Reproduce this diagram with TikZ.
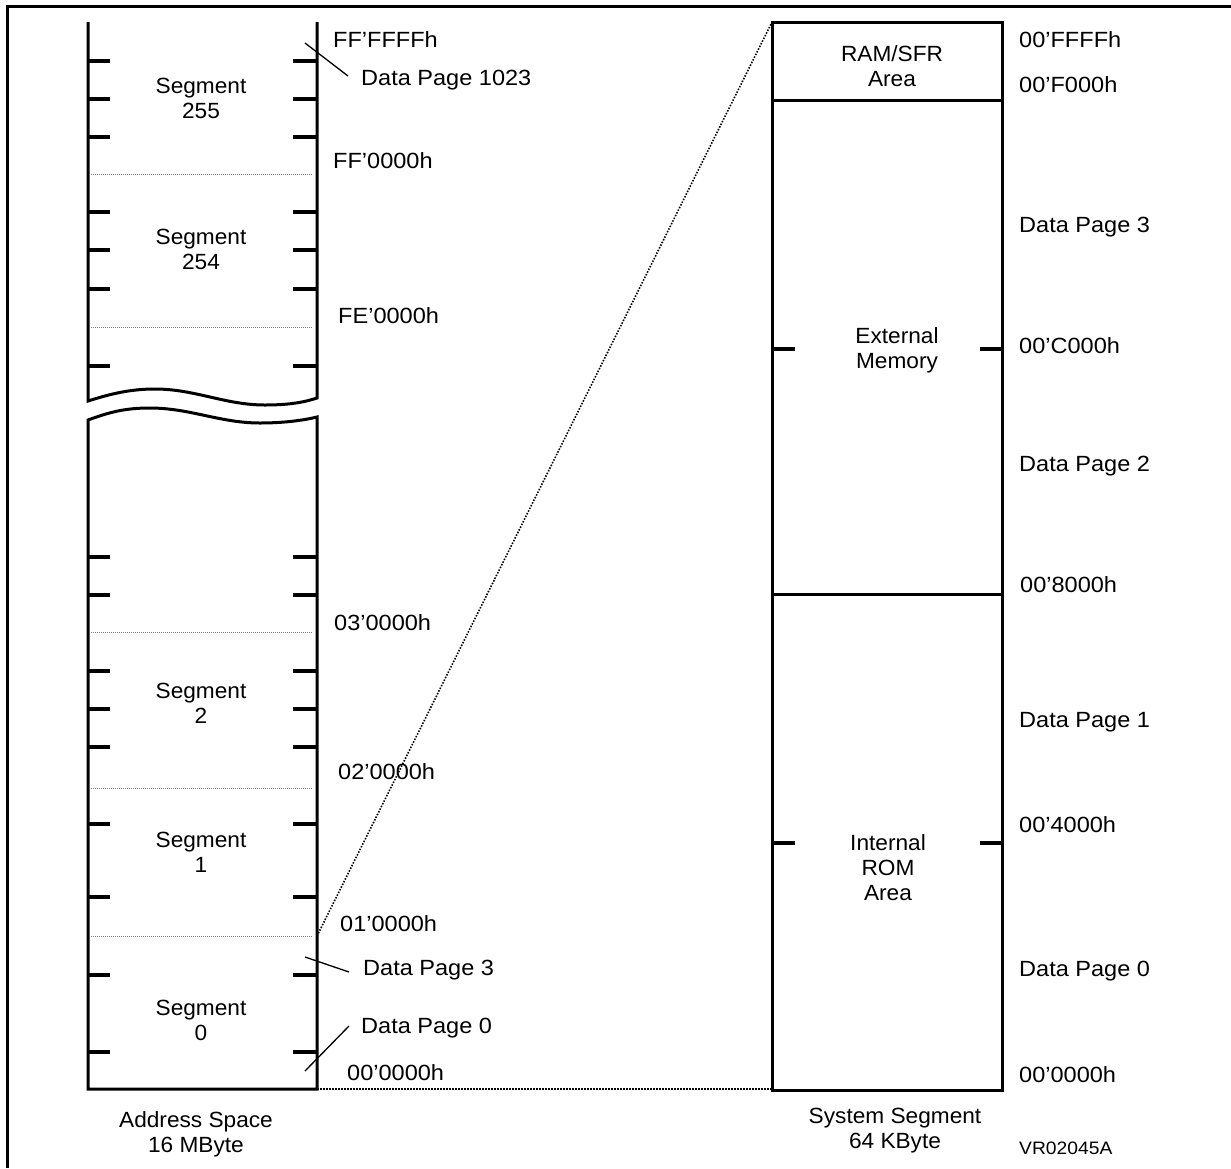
\documentclass[tikz,border=0pt]{standalone}
\usepackage{fontspec}
\setmainfont[FakeStretch=1.03]{Liberation Sans}
\newfontfamily\addrfont[FakeStretch=1.07]{Liberation Sans}
% centred multi-line label whose baseline is that of its first line
\newcommand{\lstk}[1]{\begin{tabular}[t]{@{}c@{}}#1\end{tabular}}
\begin{document}
\begin{tikzpicture}[x=1pt,y=-1pt,
  every node/.style={inner sep=0pt, font=\fontsize{22}{25}\selectfont},
  addr/.style={anchor=base west, font=\addrfont\fontsize{22}{25}\selectfont},
  mid/.style={anchor=base},
  colline/.style={line width=3pt},
  pgtick/.style={line width=4pt},
  segsep/.style={gray, line width=1pt, dash pattern=on 1pt off 1pt},
  zoomline/.style={line width=1.6pt, dash pattern=on 1.5pt off 1.5pt},
  leader/.style={line width=1.3pt},
]
\useasboundingbox (0,0) rectangle (1231,1168);

% frame
\draw[line width=3pt] (7.5,1168) -- (7.5,6.5) -- (1231,6.5);

% ---- 16 MByte address space, upper piece (open at the top, wavy break below)
\draw[colline] (88,22) -- (88,401)
  .. controls (110,394) and (130,389) .. (155,389)
  .. controls (195,389) and (225,405) .. (265,405)
  .. controls (290,405) and (305,402) .. (317,398) -- (317,22);
% lower piece
\draw[colline] (88,420)
  .. controls (110,412) and (125,408) .. (150,408)
  .. controls (190,408) and (220,423) .. (260,423)
  .. controls (285,423) and (305,420) .. (317,417)
  -- (317,1089) -- (88,1089) -- cycle;

% data page ticks
\foreach \y in {61,99,137,212,250,289,366,557,595,671,709,747,824,897,975,1052}{
  \draw[pgtick] (88,\y) -- ++(22,0);
  \draw[pgtick] (317,\y) -- ++(-24,0);
}
% segment boundaries
\foreach \y in {174,327,632,788,936}{
  \draw[segsep] (91,\y) -- (313,\y);
}

% segment names
\node[mid] (s255) at (201,93)   {\lstk{Segment\\255}};
\node[mid] (s254) at (201,244)  {\lstk{Segment\\254}};
\node[mid] (s2)   at (201,698)  {\lstk{Segment\\2}};
\node[mid] (s1)   at (201,847)  {\lstk{Segment\\1}};
\node[mid] (s0)   at (201,1015) {\lstk{Segment\\0}};
\node[mid] (asp)  at (196,1127) {\lstk{Address Space\\16 MByte}};

% addresses of the address space
\node[addr] (aFFFFFF) at (333,47)   {FF’FFFFh};
\node[addr] (dp1023)  at (361,85)   {Data Page 1023};
\node[addr] (aFF0000) at (333,168)  {FF’0000h};
\node[addr] (aFE0000) at (338,323)  {FE’0000h};
\node[addr] (a030000) at (334,630)  {03’0000h};
\node[addr] (a020000) at (338,779)  {02’0000h};
\node[addr] (a010000) at (340,931)  {01’0000h};
\node[addr] (ldp3)    at (363,975)  {Data Page 3};
\node[addr] (ldp0)    at (361,1033) {Data Page 0};
\node[addr] (a000000) at (347,1080) {00’0000h};

% leaders from the data page labels into the column
\coordinate (p1023in)  at (305,43);
\coordinate (p1023out) at (348,76);
\coordinate (p3in)     at (305,957);
\coordinate (p3out)    at (349,972);
\coordinate (p0in)     at (305,1071);
\coordinate (p0out)    at (349,1026);
\draw[leader] (p1023in) -- (p1023out);
\draw[leader] (p3in) -- (p3out);
\draw[leader] (p0in) -- (p0out);

% ---- 64 KByte system segment
\draw[colline] (772,22) rectangle (1002,1090);
\draw[colline] (772,100) -- (1002,100);
\draw[colline] (772,594) -- (1002,594);
\foreach \y in {349,843}{
  \draw[pgtick] (772,\y) -- ++(23,0);
  \draw[pgtick] (1002,\y) -- ++(-22,0);
}
\node[mid] (ram) at (892,61)  {\lstk{RAM/SFR\\Area}};
\node[mid] (ext) at (897,343) {\lstk{External\\Memory}};
\node[mid] (rom) at (888,850) {\lstk{Internal\\ROM\\Area}};
\node[mid] (sys) at (895,1123) {\lstk{System Segment\\64 KByte}};

\node[addr] (b00FFFF) at (1019,47)   {00’FFFFh};
\node[addr] (b00F000) at (1019,92)   {00’F000h};
\node[addr] (rdp3)    at (1019,232)  {Data Page 3};
\node[addr] (b00C000) at (1019,353)  {00’C000h};
\node[addr] (rdp2)    at (1019,471)  {Data Page 2};
\node[addr] (b008000) at (1020,592)  {00’8000h};
\node[addr] (rdp1)    at (1019,727)  {Data Page 1};
\node[addr] (b004000) at (1019,832)  {00’4000h};
\node[addr] (rdp0)    at (1019,976)  {Data Page 0};
\node[addr] (b000000) at (1019,1082) {00’0000h};
\node[addr, font=\addrfont\fontsize{18}{21}\selectfont] (ref) at (1019,1154) {VR02045A};

% segment 0 expanded into the system segment
\coordinate (sysTL)  at (772,22);
\coordinate (sysBL)  at (772,1089);
\coordinate (seg0TR) at (317,936);
\coordinate (seg0BR) at (317,1089);
\draw[zoomline] (seg0TR) -- (sysTL);
\draw[zoomline] (seg0BR) -- (sysBL);
\end{tikzpicture}
\end{document}
